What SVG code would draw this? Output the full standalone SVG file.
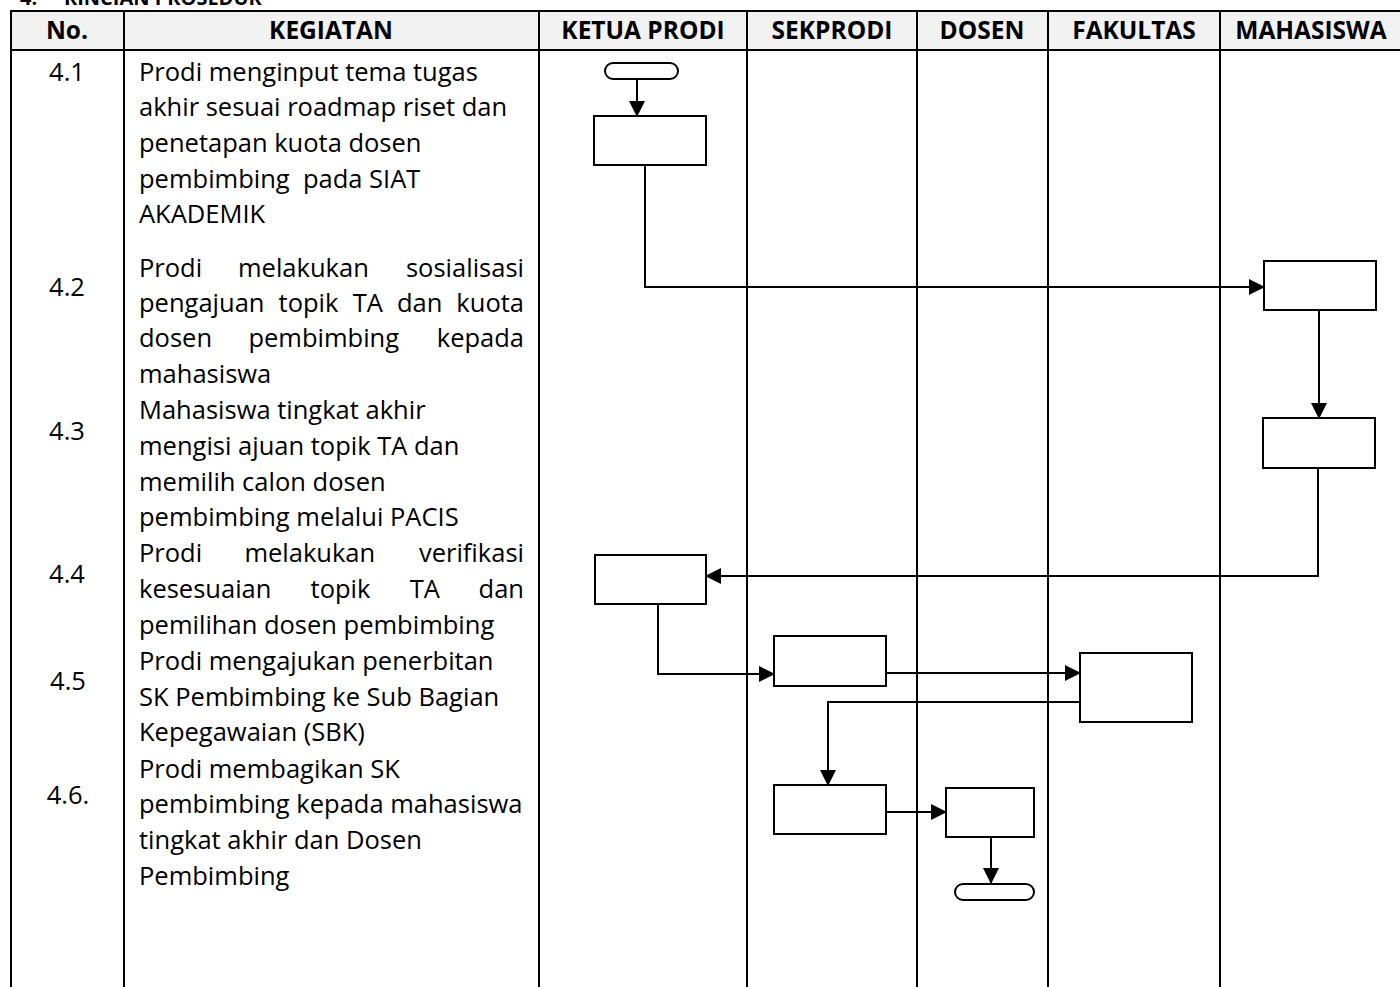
<svg xmlns="http://www.w3.org/2000/svg" width="1400" height="987" viewBox="0 0 1400 987">
<defs>
<marker id="arr" markerUnits="userSpaceOnUse" markerWidth="16" markerHeight="16" refX="15" refY="8" orient="auto">
<path d="M0,0 L16,8 L0,16 Z" fill="#000"/>
</marker>
<style>
.t{font-family:"Open Sans",Lato,"Liberation Sans",sans-serif;font-size:25.5px;fill:#000}
.h{font-family:"Open Sans",Lato,"Liberation Sans",sans-serif;font-size:24.5px;font-weight:bold;fill:#000;text-anchor:middle}
.n{text-anchor:middle}
.grid{stroke:#000;stroke-width:2;fill:none}
.box{fill:#fff;stroke:#000;stroke-width:2}
.c{fill:none;stroke:#000;stroke-width:2}
.ttl{font-family:"Open Sans",Lato,"Liberation Sans",sans-serif;font-size:20px;font-weight:bold}
</style>
</defs>
<rect width="1400" height="987" fill="#fff"/>
<g id="title">
<text class="ttl" x="20" y="5">4.</text>
<text class="ttl" x="64" y="5">RINCIAN PROSEDUR</text>
</g>
<g id="table">
<rect x="11" y="11" width="1400" height="39" fill="#f2f2f2"/>
<line class="grid" x1="11" y1="11" x2="1400" y2="11"/>
<line class="grid" x1="11" y1="50" x2="1400" y2="50"/>
<line class="grid" x1="11" y1="10" x2="11" y2="987"/>
<line class="grid" x1="124" y1="10" x2="124" y2="987"/>
<line class="grid" x1="539" y1="10" x2="539" y2="987"/>
<line class="grid" x1="747" y1="10" x2="747" y2="987"/>
<line class="grid" x1="917" y1="10" x2="917" y2="987"/>
<line class="grid" x1="1048" y1="10" x2="1048" y2="987"/>
<line class="grid" x1="1220" y1="10" x2="1220" y2="987"/>
<text class="h" x="67" y="39">No.</text>
<text class="h" x="331" y="39">KEGIATAN</text>
<text class="h" x="643" y="39">KETUA PRODI</text>
<text class="h" x="832" y="39">SEKPRODI</text>
<text class="h" x="982" y="39">DOSEN</text>
<text class="h" x="1134" y="39">FAKULTAS</text>
<text class="h" x="1311" y="39">MAHASISWA</text>
</g>
<g id="rows">
<text class="t n" x="67" y="81">4.1</text>
<text class="t" x="139" y="81">Prodi menginput tema tugas</text>
<text class="t" x="139" y="116">akhir sesuai roadmap riset dan</text>
<text class="t" x="139" y="152">penetapan kuota dosen</text>
<text class="t" x="139" y="188" xml:space="preserve">pembimbing  pada SIAT</text>
<text class="t" x="139" y="223">AKADEMIK</text>

<text class="t n" x="67" y="296">4.2</text>
<text class="t" y="277"><tspan x="139">Prodi</tspan><tspan x="238">melakukan</tspan><tspan x="524" text-anchor="end">sosialisasi</tspan></text>
<text class="t" y="312"><tspan x="139">pengajuan</tspan><tspan x="278.6">topik</tspan><tspan x="352.8">TA</tspan><tspan x="396.9">dan</tspan><tspan x="524" text-anchor="end">kuota</tspan></text>
<text class="t" y="347"><tspan x="139">dosen</tspan><tspan x="248.4">pembimbing</tspan><tspan x="524" text-anchor="end">kepada</tspan></text>
<text class="t" x="139" y="383">mahasiswa</text>

<text class="t n" x="67" y="440">4.3</text>
<text class="t" x="139" y="419">Mahasiswa tingkat akhir</text>
<text class="t" x="139" y="455">mengisi ajuan topik TA dan</text>
<text class="t" x="139" y="491">memilih calon dosen</text>
<text class="t" x="139" y="526">pembimbing melalui PACIS</text>

<text class="t n" x="67" y="583">4.4</text>
<text class="t" y="562"><tspan x="139">Prodi</tspan><tspan x="244.4">melakukan</tspan><tspan x="524" text-anchor="end">verifikasi</tspan></text>
<text class="t" y="598"><tspan x="139">kesesuaian</tspan><tspan x="310.6">topik</tspan><tspan x="409.7">TA</tspan><tspan x="524" text-anchor="end">dan</tspan></text>
<text class="t" x="139" y="634">pemilihan dosen pembimbing</text>

<text class="t n" x="68" y="690">4.5</text>
<text class="t" x="139" y="670">Prodi mengajukan penerbitan</text>
<text class="t" x="139" y="706">SK Pembimbing ke Sub Bagian</text>
<text class="t" x="139" y="741">Kepegawaian (SBK)</text>

<text class="t n" x="68" y="804">4.6.</text>
<text class="t" x="139" y="778">Prodi membagikan SK</text>
<text class="t" x="139" y="813">pembimbing kepada mahasiswa</text>
<text class="t" x="139" y="849">tingkat akhir dan Dosen</text>
<text class="t" x="139" y="885">Pembimbing</text>
</g>
<g id="connectors">
<line class="c" x1="637" y1="78" x2="637" y2="116" marker-end="url(#arr)"/>
<polyline class="c" points="645,165 645,287 1264,287" marker-end="url(#arr)"/>
<line class="c" x1="1319" y1="310" x2="1319" y2="418" marker-end="url(#arr)"/>
<polyline class="c" points="1318,468 1318,576 706,576" marker-end="url(#arr)"/>
<polyline class="c" points="658,604 658,674 774,674" marker-end="url(#arr)"/>
<line class="c" x1="886" y1="673" x2="1080" y2="673" marker-end="url(#arr)"/>
<polyline class="c" points="1080,702 828,702 828,785" marker-end="url(#arr)"/>
<line class="c" x1="886" y1="812" x2="946" y2="812" marker-end="url(#arr)"/>
<line class="c" x1="991" y1="837" x2="991" y2="883" marker-end="url(#arr)"/>
</g>
<g id="start"><rect class="box" x="605" y="63" width="73" height="16" rx="8"/></g>
<g id="n41"><rect class="box" x="594" y="116" width="112" height="49"/></g>
<g id="n42"><rect class="box" x="1264" y="261" width="112" height="49"/></g>
<g id="n43"><rect class="box" x="1263" y="418" width="112" height="50"/></g>
<g id="n44"><rect class="box" x="595" y="555" width="111" height="49"/></g>
<g id="n45a"><rect class="box" x="774" y="636" width="112" height="50"/></g>
<g id="n45b"><rect class="box" x="1080" y="653" width="112" height="69"/></g>
<g id="n46a"><rect class="box" x="774" y="785" width="112" height="49"/></g>
<g id="n46b"><rect class="box" x="946" y="788" width="88" height="49"/></g>
<g id="end"><rect class="box" x="955" y="884" width="79" height="16" rx="8"/></g>
</svg>
